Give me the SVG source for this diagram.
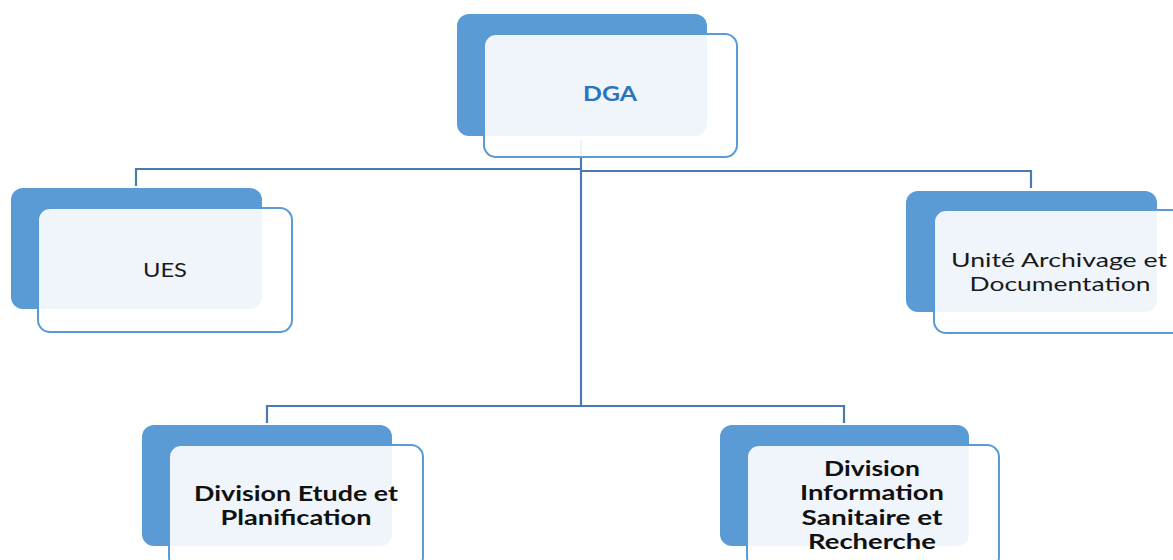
<svg xmlns="http://www.w3.org/2000/svg" width="1173" height="560" viewBox="0 0 1173 560">
<style>
.back{fill:#5b9bd5;}
.front{fill:#ffffff;fill-opacity:0.9;stroke:#5b9bd5;stroke-width:2;}
.conn{fill:none;stroke:#4a7bb0;stroke-width:2.2;}
.t{font-family:Lato,"Open Sans",sans-serif;font-size:20px;fill:#1a1a1a;text-anchor:middle;}
.b{font-weight:bold;fill:#111;}
.dga{font-weight:bold;fill:#2a74bf;}
</style>
<rect width="1173" height="560" fill="#ffffff"/>
<g id="connectors">
<path class="conn" d="M581 140 V406"/>
<path class="conn" d="M136 186 V169 H581"/>
<path class="conn" d="M581 171 H1031 V188"/>
<path class="conn" d="M267 423 V406 H844 V423"/>
</g>
<g id="node-dga">
<rect class="back" x="457" y="14" width="250" height="122" rx="12"/>
<rect class="front" x="484" y="34" width="253" height="123" rx="12"/>
<text class="t dga" x="610" y="101" textLength="54" lengthAdjust="spacingAndGlyphs">DGA</text>
</g>
<g id="node-ues">
<rect class="back" x="11" y="188" width="251" height="121" rx="12"/>
<rect class="front" x="38" y="208" width="254" height="124" rx="12"/>
<text class="t" x="165" y="277" textLength="44" lengthAdjust="spacingAndGlyphs">UES</text>
</g>
<g id="node-unite">
<rect class="back" x="906" y="191" width="251" height="121" rx="12"/>
<rect class="front" x="934" y="210" width="254" height="123" rx="12"/>
<text class="t" x="1059" y="267" textLength="216" lengthAdjust="spacingAndGlyphs">Unité Archivage et</text>
<text class="t" x="1060" y="291" textLength="181" lengthAdjust="spacingAndGlyphs">Documentation</text>
</g>
<g id="node-etude">
<rect class="back" x="142" y="425" width="250" height="121" rx="12"/>
<rect class="front" x="169" y="445" width="254" height="124" rx="12"/>
<text class="t b" x="296" y="501" textLength="204" lengthAdjust="spacingAndGlyphs">Division Etude et</text>
<text class="t b" x="296" y="525" textLength="151" lengthAdjust="spacingAndGlyphs">Planification</text>
</g>
<g id="node-info">
<rect class="back" x="720" y="425" width="249" height="121" rx="12"/>
<rect class="front" x="747" y="445" width="252" height="124" rx="12"/>
<text class="t b" x="872" y="476" textLength="96" lengthAdjust="spacingAndGlyphs">Division</text>
<text class="t b" x="872" y="500" textLength="144" lengthAdjust="spacingAndGlyphs">Information</text>
<text class="t b" x="872" y="525" textLength="141" lengthAdjust="spacingAndGlyphs">Sanitaire et</text>
<text class="t b" x="872" y="549" textLength="128" lengthAdjust="spacingAndGlyphs">Recherche</text>
</g>
</svg>
